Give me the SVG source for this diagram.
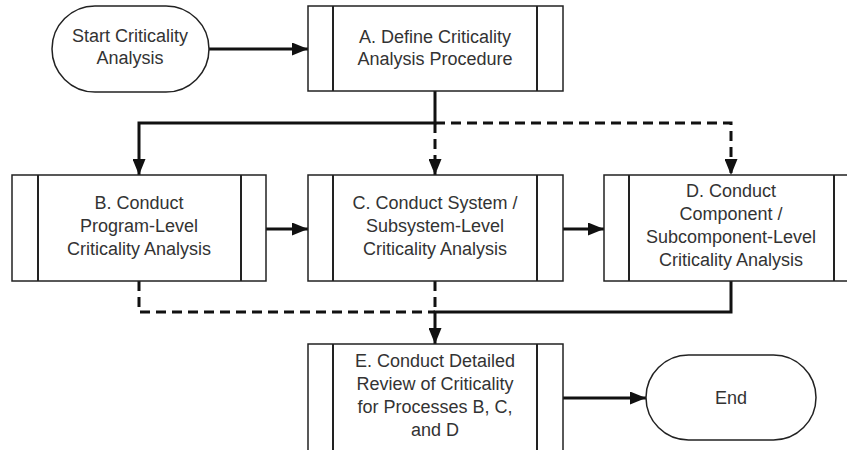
<svg xmlns="http://www.w3.org/2000/svg" width="847" height="450" viewBox="0 0 847 450">
<defs>
<style>
.box{fill:#fff;stroke:#222;stroke-width:1.5}
.bar{stroke:#222;stroke-width:2;fill:none}
.term{fill:#fff;stroke:#222;stroke-width:1.5}
text{font-family:"Liberation Sans",Arial,sans-serif;font-size:18px;fill:#333;text-anchor:middle}
.c{fill:none;stroke:#111;stroke-width:3}
.d{stroke-dasharray:10 6}
</style>
<marker id="ah" markerUnits="userSpaceOnUse" markerWidth="17" markerHeight="13" refX="16" refY="6.5" orient="auto">
<path d="M0,0 L16,6.5 L0,13 Z" fill="#111"/>
</marker>
</defs>
<rect width="847" height="450" fill="#fff"/>
<g id="connectors">
<path class="c" d="M209,49 H308" marker-end="url(#ah)"/>
<path class="c" d="M435,91 V123 H139 V175" marker-end="url(#ah)"/>
<path class="c d" d="M435,123 V175" marker-end="url(#ah)"/>
<path class="c d" d="M435,123 H731 V175" marker-end="url(#ah)"/>
<path class="c" d="M266,229 H308" marker-end="url(#ah)"/>
<path class="c" d="M563,229 H604" marker-end="url(#ah)"/>
<path class="c d" d="M139,281 V312 H435"/>
<path class="c d" d="M435,281 V312"/>
<path class="c" d="M731,281 V312 H435 V344" marker-end="url(#ah)"/>
<path class="c" d="M563,398 H646" marker-end="url(#ah)"/>
</g>
<g id="start">
<rect class="term" x="52" y="6" width="157" height="86" rx="43"/>
<text x="130" y="42">Start Criticality</text>
<text x="130" y="64">Analysis</text>
</g>
<g id="A">
<rect class="box" x="308" y="6" width="255" height="85"/>
<path class="bar" d="M333,6 V91 M537,6 V91"/>
<text x="435" y="43">A. Define Criticality</text>
<text x="435" y="65">Analysis Procedure</text>
</g>
<g id="B">
<rect class="box" x="12" y="175" width="254" height="106"/>
<path class="bar" d="M38,175 V281 M241,175 V281"/>
<text x="139" y="209">B. Conduct</text>
<text x="139" y="232">Program-Level</text>
<text x="139" y="255">Criticality Analysis</text>
</g>
<g id="C">
<rect class="box" x="308" y="175" width="255" height="106"/>
<path class="bar" d="M333,175 V281 M537,175 V281"/>
<text x="435" y="209">C. Conduct System /</text>
<text x="435" y="232">Subsystem-Level</text>
<text x="435" y="255">Criticality Analysis</text>
</g>
<g id="D">
<rect class="box" x="604" y="175" width="255" height="106"/>
<path class="bar" d="M629,175 V281 M834,175 V281"/>
<text x="731" y="197">D. Conduct</text>
<text x="731" y="220">Component /</text>
<text x="731" y="243">Subcomponent-Level</text>
<text x="731" y="266">Criticality Analysis</text>
</g>
<g id="E">
<rect class="box" x="308" y="344" width="255" height="115"/>
<path class="bar" d="M333,344 V459 M537,344 V459"/>
<text x="435" y="367">E. Conduct Detailed</text>
<text x="435" y="390">Review of Criticality</text>
<text x="435" y="413">for Processes B, C,</text>
<text x="435" y="436">and D</text>
</g>
<g id="end">
<rect class="term" x="646" y="355" width="170" height="85" rx="42.5"/>
<text x="731" y="404">End</text>
</g>
</svg>
